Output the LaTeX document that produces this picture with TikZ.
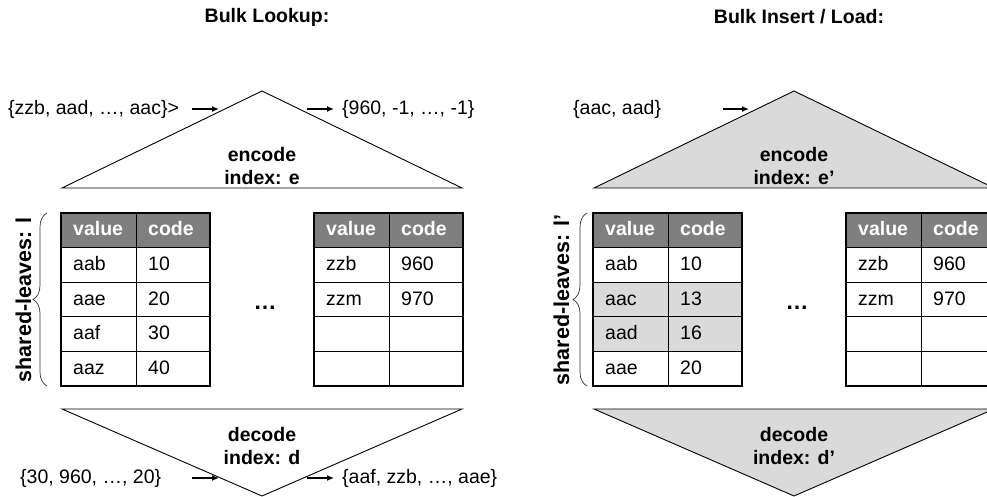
\documentclass[tikz,border=0pt]{standalone}
\usepackage{fontspec}
\setmainfont{Liberation Sans}
\usetikzlibrary{arrows.meta,decorations.pathreplacing}
\definecolor{hdrgray}{HTML}{7F7F7F}
\definecolor{shadegray}{HTML}{DADADA}

% one leaf table: #1 name prefix, #2 list of value/code/fill rows
\newcommand{\leaftable}[2]{%
  \fill[hdrgray] (0,213) rectangle (149,248);
  \node[hdrtext] (#1-hv) at (12,230.5) {value};
  \node[hdrtext] (#1-hc) at (87,230.5) {code};
  \foreach \v/\c/\f [count=\i] in {#2} {
    \fill[\f] (0,{213+34.6*\i}) rectangle (149,{213+34.6*(\i+1)});
    \node[celltext] (#1-v\i) at (12,{213+34.6*\i+17.8}) {\v};
    \node[celltext] (#1-c\i) at (87,{213+34.6*\i+17.8}) {\c};
    \draw[thinline] (0,{213+34.6*\i}) -- (149,{213+34.6*\i});
  }
  \draw[thinline] (75,213) -- (75,386);
  \draw[tableframe] (0,213) rectangle (149,386);
}

\tikzset{
  txt/.style={font=\fontsize{19.5}{23}\selectfont, inner sep=0pt},
  boldtxt/.style={txt, font=\fontsize{19.5}{23}\selectfont\bfseries},
  dotstxt/.style={inner sep=0pt, font=\fontsize{23}{26}\selectfont\bfseries},
  sidelabel/.style={inner sep=0pt, rotate=90, font=\fontsize{21.5}{25}\selectfont\bfseries},
  hdrtext/.style={boldtxt, text=white, anchor=west, text height=14pt, text depth=4pt},
  celltext/.style={txt, anchor=west, text height=14pt, text depth=4pt},
  thinline/.style={line width=0.8pt, black},
  tableframe/.style={line width=2.6pt, black},
  tri/.style={line width=0.9pt, black},
  flow/.style={line width=1.3pt, -{Latex[length=7pt,width=6pt]}},
  leafbrace/.style={decorate, decoration={brace, amplitude=14pt}, line width=0.7pt, black!80},
}

\begin{document}
\begin{tikzpicture}[x=1pt,y=-1pt]
\useasboundingbox (0,0) rectangle (987,497);

% ---------------- Bulk lookup ----------------
\node[boldtxt] (titleL) at (267,17) {Bulk Lookup:};

\draw[tri] (62,188) -- (262,91) -- (462,188) -- cycle;
\node[boldtxt, align=center] (encL) at (262,166) {encode\\index: e};
\node[txt, anchor=west] (qinL) at (8,109) {\{zzb, aad, …, aac\}>};
\node[txt, anchor=west] (qoutL) at (342,109) {\{960, -1, …, -1\}};
\coordinate (ainL1) at (192,109);
\coordinate (ainL2) at (219,109);
\coordinate (aoutL1) at (307,109);
\coordinate (aoutL2) at (334,109);
\draw[flow] (ainL1) -- (ainL2);
\draw[flow] (aoutL1) -- (aoutL2);

\begin{scope}[shift={(61,0)}]
  \leaftable{tL1}{aab/10/white, aae/20/white, aaf/30/white, aaz/40/white}
\end{scope}
\begin{scope}[shift={(314,0)}]
  \leaftable{tL2}{zzb/960/white, zzm/970/white, /{}/white, /{}/white}
\end{scope}
\node[dotstxt] (dotsL) at (265,308) {…};

\node[sidelabel] (leavesL) at (23.5,300) {shared-leaves: l};
\draw[leafbrace] (47,386) -- (47,213);

\draw[tri] (62,409) -- (262,496) -- (462,409) -- cycle;
\node[boldtxt, align=center] (decL) at (262,446) {decode\\index: d};
\node[txt, anchor=west] (dinL) at (20,478) {\{30, 960, …, 20\}};
\node[txt, anchor=west] (doutL) at (342,478) {\{aaf, zzb, …, aae\}};
\coordinate (binL1) at (192,478);
\coordinate (binL2) at (219,478);
\coordinate (boutL1) at (307,478);
\coordinate (boutL2) at (334,478);
\draw[flow] (binL1) -- (binL2);
\draw[flow] (boutL1) -- (boutL2);

% ---------------- Bulk insert / load ----------------
\begin{scope}[shift={(532,0)}]
  \node[boldtxt] (titleR) at (267,17) {Bulk Insert / Load:};

  \draw[tri, fill=shadegray] (62,188) -- (262,91) -- (462,188) -- cycle;
  \node[boldtxt, align=center] (encR) at (262,166) {encode\\index: e’};
  \node[txt, anchor=west] (qinR) at (41,109) {\{aac, aad\}};
  \coordinate (ainR1) at (191,109);
  \coordinate (ainR2) at (217,109);
  \draw[flow] (ainR1) -- (ainR2);

  \begin{scope}[shift={(61,0)}]
    \leaftable{tR1}{aab/10/white, aac/13/shadegray, aad/16/shadegray, aae/20/white}
  \end{scope}
  \begin{scope}[shift={(314,0)}]
    \leaftable{tR2}{zzb/960/white, zzm/970/white, /{}/white, /{}/white}
  \end{scope}
  \node[dotstxt] (dotsR) at (265,308) {…};

  \node[sidelabel] (leavesR) at (29.5,300) {shared-leaves: l’};
  \draw[leafbrace] (55,386) -- (55,213);

  \draw[tri, fill=shadegray] (62,409) -- (262,496) -- (462,409) -- cycle;
  \node[boldtxt, align=center] (decR) at (262,446) {decode\\index: d’};
\end{scope}
\end{tikzpicture}
\end{document}
